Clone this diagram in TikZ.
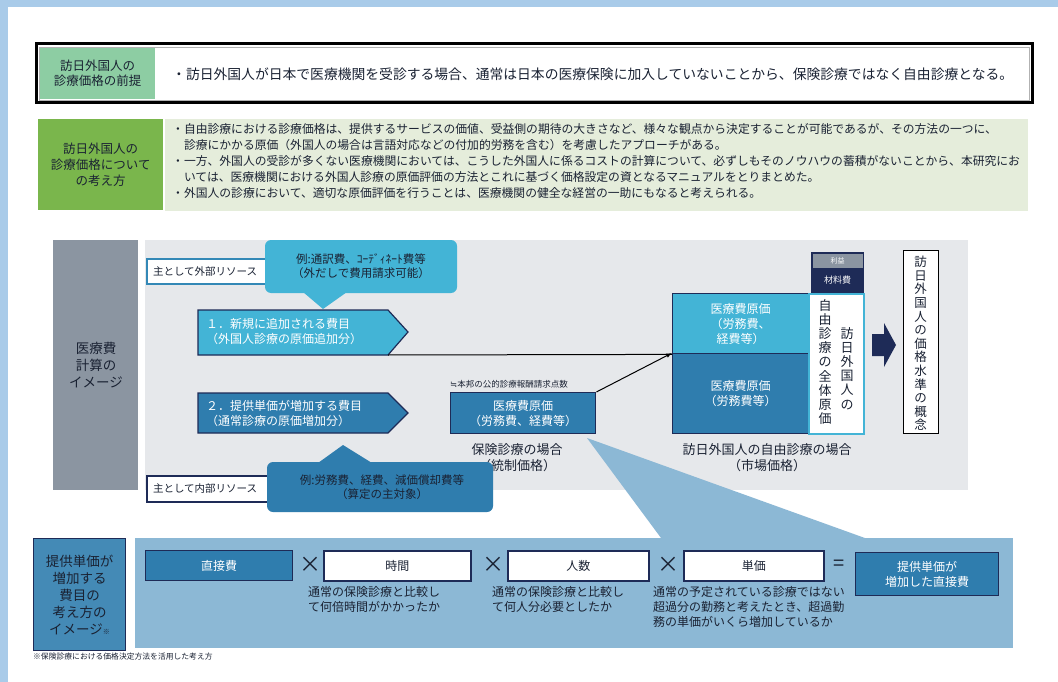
\documentclass[tikz,border=0pt]{standalone}
\usepackage{fontspec}
\setmainfont{Noto Sans CJK JP}
\newfontfamily\symbfont{DejaVu Sans}
\usetikzlibrary{arrows}

\definecolor{frameblue}{HTML}{A9CBE9}
\definecolor{mint}{HTML}{8DCDA3}
\definecolor{leaf}{HTML}{7AB64C}
\definecolor{paleleaf}{HTML}{E5EDDB}
\definecolor{slate}{HTML}{8B95A1}
\definecolor{mist}{HTML}{E6E8EB}
\definecolor{sky}{HTML}{43B4D6}
\definecolor{sea}{HTML}{2F7DAE}
\definecolor{navy}{HTML}{1E2B57}
\definecolor{pale}{HTML}{8CB8D5}
\definecolor{ink}{HTML}{1A2233}

\tikzset{
	every node/.style={inner sep=0pt, text=ink},
	cell/.style={anchor=north west, align=center},
	costbox/.style={cell, draw=navy, line width=1.4pt, fill=sea, text=white},
	factor/.style={cell, draw=navy, line width=1.6pt, fill=white},
	tag/.style={cell, fill=white, line width=2pt, font=\fontsize{10.5}{12}\selectfont},
	vtext/.style={align=center, anchor=north, font=\fontsize{13}{14.2}\selectfont},
	big/.style={font=\fontsize{13}{16}\selectfont},
	head/.style={font=\fontsize{13.5}{17}\selectfont},
	mid/.style={font=\fontsize{12}{15}\selectfont},
	small/.style={font=\fontsize{11.5}{14.5}\selectfont}
}

\begin{document}
\begin{tikzpicture}[x=1pt, y=-1pt]

	\useasboundingbox (0,0) rectangle (1058,682);
	%page frame
	\fill[frameblue] (0,0) rectangle (1058,682);
	\fill[white] (8,7) rectangle (1058,682);

	%premise row
	\draw[line width=3pt] (36,44) rectangle (1032,103);
	\draw[gray!60, line width=0.6pt] (39,47) rectangle (1029,100);
	\node[cell, font=\fontsize{12.5}{15}\selectfont, fill=mint, minimum width=115, minimum height=51] (premhead) at (40,48) {訪日外国人の\\診療価格の前提};
	\node[font=\fontsize{13.8}{16}\selectfont, anchor=west] (premtext) at (172,74) {・訪日外国人が日本で医療機関を受診する場合、通常は日本の医療保険に加入していないことから、保険診療ではなく自由診療となる。};

	%approach row
	\node[cell, font=\fontsize{12.5}{16}\selectfont, fill=leaf, minimum width=125, minimum height=91] (apphead) at (38,119) {訪日外国人の\\診療価格について\\の考え方};
	\fill[paleleaf] (165,119) rectangle (1028,211);
	\node[cell, align=left, font=\fontsize{11.8}{16.2}\selectfont] (apptext) at (172,123) {・自由診療における診療価格は、提供するサービスの価値、受益側の期待の大きさなど、様々な観点から決定することが可能であるが、その方法の一つに、\\
	\hphantom{・}診療にかかる原価（外国人の場合は言語対応などの付加的労務を含む）を考慮したアプローチがある。\\
	・一方、外国人の受診が多くない医療機関においては、こうした外国人に係るコストの計算について、必ずしもそのノウハウの蓄積がないことから、本研究にお\\
	\hphantom{・}いては、医療機関における外国人診療の原価評価の方法とこれに基づく価格設定の資となるマニュアルをとりまとめた。\\
	・外国人の診療において、適切な原価評価を行うことは、医療機関の健全な経営の一助にもなると考えられる。};

	%cost calculation panel
	\fill[slate] (53,240) rectangle (138,490);
	\node[head, align=center] (calchead) at (96,365) {医療費\\計算の\\イメージ};
	\fill[mist] (145,240) rectangle (968,490);

	%funnel down to the lower panel
	\fill[pale] (587,438) -- (664,542) -- (876,542) -- cycle;

	%external resources callout
	\node[tag, draw=sea!80!sky, minimum width=127, minimum height=25, align=left, text width=115, inner xsep=6pt] (extlabel) at (146,258) {主として外部リソース};
	\fill[sky, rounded corners=6pt] (265,240) rectangle (457,293);
	\fill[sky] (303,292) -- (323,309) -- (347,292) -- cycle;
	\node[small, align=center] (extnote) at (361,266) {例:通訳費、ｺｰﾃﾞｨﾈｰﾄ費等\\（外だしで費用請求可能）};

	%cost items
	\draw[fill=sky, draw=navy, line width=1.2pt] (198,310) -- (388,310) -- (408,332) -- (388,355) -- (198,355) -- cycle;
	\node[mid, anchor=west, align=left, text=white] (newitem) at (206,332) {１．新規に追加される費目\\（外国人診療の原価追加分）};
	\coordinate (newbase) at (388,355);
	\draw[fill=sea, draw=navy, line width=1.2pt] (198,393) -- (388,393) -- (408,413) -- (388,433) -- (198,433) -- cycle;
	\node[mid, anchor=west, align=left, text=white] (incitem) at (206,413) {２．提供単価が増加する費目\\（通常診療の原価増加分）};

	%insured treatment
	\node[font=\fontsize{8.5}{10}\selectfont, anchor=south west] (refnote) at (450,388) {{\symbfont ≒}本邦の公的診療報酬請求点数};
	\node[costbox, mid, minimum width=145, minimum height=41] (inscost) at (450,392) {医療費原価\\（労務費、経費等）};
	\node[big, align=center] (inslabel) at (517,458) {保険診療の場合\\（統制価格）};

	%free treatment column
	\node[costbox, mid, fill=sky, minimum width=136, minimum height=60] (freetop) at (672,293) {医療費原価\\（労務費、\\経費等）};
	\node[costbox, mid, minimum width=136, minimum height=80] (freelow) at (672,353) {医療費原価\\（労務費等）};
	\node[cell, draw=sky, line width=1.5pt, fill=white, minimum width=55, minimum height=140] (total) at (808,293) {};
	\node[vtext] (totalb) at (825,299) {自\\由\\診\\療\\の\\全\\体\\原\\価};
	\node[vtext] (totala) at (847,327) {訪\\日\\外\\国\\人\\の};
	\node[cell, fill=slate, text=white, font=\fontsize{7}{8}\selectfont, minimum width=51, minimum height=15] (profit) at (812,253) {利益};
	\node[cell, fill=navy, text=white, font=\fontsize{9}{10}\selectfont, minimum width=51, minimum height=24] (material) at (812,268) {材料費};
	\draw[navy, line width=1.5pt] (profit.north west) rectangle (material.south east);
	\node[big, align=center] (freelabel) at (767,458) {訪日外国人の自由診療の場合\\（市場価格）};

	%connectors
	\draw[line width=1pt] (newbase) -- (freetop.south west);
	\draw[-latex, line width=1pt] (inscost.north east) -- (freelow.north west);

	%price level concept
	\fill[navy] (872,334) -- (884,334) -- (884,323) -- (896,345) -- (884,367) -- (884,356) -- (872,356) -- cycle;
	\node[cell, draw=black, line width=1pt, fill=white, minimum width=35, minimum height=183] (concept) at (903,250) {};
	\node[vtext, font=\fontsize{12.5}{13.6}\selectfont] (concepttext) at (920.5,256) {訪\\日\\外\\国\\人\\の\\価\\格\\水\\準\\の\\概\\念};

	%internal resources callout
	\node[tag, draw=navy, minimum width=127, minimum height=26, align=left, text width=115, inner xsep=6pt] (intlabel) at (146,475) {主として内部リソース};
	\fill[sea, rounded corners=6pt] (267,462) rectangle (493,512);
	\fill[sea] (318,463) -- (343,445) -- (372,463) -- cycle;
	\node[small, align=center] (intnote) at (382,487) {例:労務費、経費、減価償却費等\\（算定の主対象）};

	%unit price panel
	\node[cell, head, fill=sea!90!white, draw=navy, line width=1.2pt, minimum width=92, minimum height=112] (unithead) at (33,538) {提供単価が\\増加する\\費目の\\考え方の\\イメージ{\fontsize{7}{8}\selectfont ※}};
	\fill[pale] (135,538) rectangle (1013,648);
	\node[costbox, mid, minimum width=147, minimum height=30] (direct) at (145,550) {直接費};
	\node[font=\fontsize{22}{22}\selectfont] (times1) at (310,565) {×};
	\node[factor, mid, minimum width=147, minimum height=30] (hours) at (323,550) {時間};
	\node[font=\fontsize{22}{22}\selectfont] (times2) at (493,565) {×};
	\node[factor, mid, minimum width=141, minimum height=30] (staff) at (507,550) {人数};
	\node[font=\fontsize{22}{22}\selectfont] (times3) at (668,565) {×};
	\node[factor, mid, minimum width=140, minimum height=30] (price) at (683,550) {単価};
	\node[font=\fontsize{20}{20}\selectfont] (equals) at (839,565) {=};
	\node[costbox, mid, minimum width=143, minimum height=43] (result) at (855,552) {提供単価が\\増加した直接費};
	\node[cell, mid, align=left] (hoursnote) at (308,586) {通常の保険診療と比較し\\て何倍時間がかかったか};
	\node[cell, mid, align=left] (staffnote) at (492,586) {通常の保険診療と比較し\\て何人分必要としたか};
	\node[cell, mid, align=left] (pricenote) at (653,586) {通常の予定されている診療ではない\\超過分の勤務と考えたとき、超過勤\\務の単価がいくら増加しているか};
	\node[cell, font=\fontsize{7.8}{9}\selectfont] (footnote) at (33,653) {※保険診療における価格決定方法を活用した考え方};

\end{tikzpicture}
\end{document}
